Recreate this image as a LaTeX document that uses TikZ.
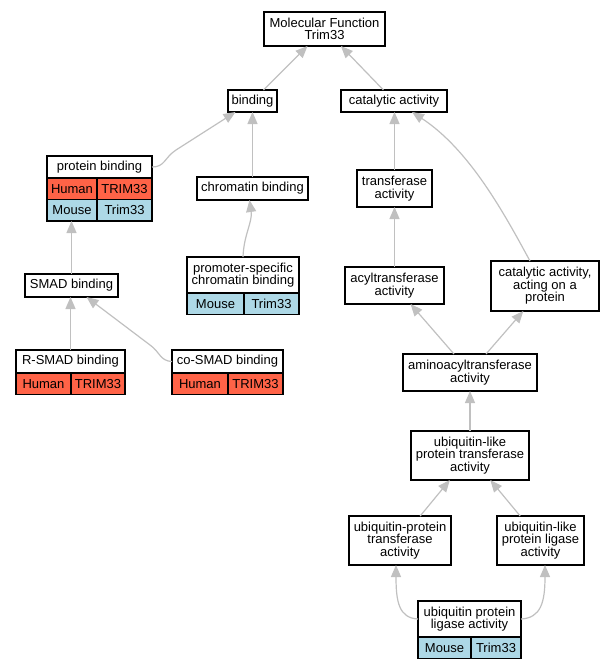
\documentclass[tikz,border=0pt]{standalone}
\usepackage{fontspec}
\setmainfont{Liberation Sans}
\usetikzlibrary{arrows.meta}
\definecolor{human}{HTML}{FF6347}
\definecolor{mouse}{HTML}{ADD8E6}
\definecolor{edgegray}{HTML}{C0C0C0}
\tikzset{
  term/.style={draw, line width=1.2pt, fill=white, inner sep=0pt, outer sep=0pt, align=center,
    font=\fontsize{13}{12.5}\selectfont},
  cell/.style={term, anchor=north west, minimum height=21.5pt},
  isa/.style={edgegray, line width=1.2pt, -{Triangle[length=12pt,width=10pt]}},
}
\begin{document}
\begin{tikzpicture}[x=1pt,y=-1pt]
    \useasboundingbox (0,0) rectangle (613,669);

    % Root
    \node[term, minimum width=121pt, minimum height=34pt] (mf) at (324.5,29) {Molecular Function\\Trim33};

    % binding side
    \node[term, minimum width=49pt, minimum height=22pt] (bind) at (252.5,101) {binding};
    \node[term, minimum width=105pt, minimum height=22pt] (pb) at (99.5,167) {protein binding};
    \node[cell, fill=human, minimum width=50pt] (pbh1) at (pb.south west) {Human};
    \node[cell, fill=human, minimum width=55pt] (pbh2) at (pbh1.north east) {TRIM33};
    \node[cell, fill=mouse, minimum width=50pt] (pbm1) at (pbh1.south west) {Mouse};
    \node[cell, fill=mouse, minimum width=55pt] (pbm2) at (pbm1.north east) {Trim33};
    \node[term, minimum width=111pt, minimum height=23pt] (chrom) at (252.5,188.5) {chromatin binding};
    \node[term, minimum width=112pt, minimum height=36pt] (psc) at (243,275) {promoter-specific\\chromatin binding};
    \node[cell, fill=mouse, minimum width=57pt] (pscm1) at (psc.south west) {Mouse};
    \node[cell, fill=mouse, minimum width=55pt] (pscm2) at (pscm1.north east) {Trim33};
    \node[term, minimum width=93pt, minimum height=23pt] (smad) at (71.5,285.5) {SMAD binding};
    \node[term, minimum width=109pt, minimum height=23pt] (rsmad) at (70.5,361.5) {R-SMAD binding};
    \node[cell, fill=human, minimum width=55pt] (rsmadh1) at (rsmad.south west) {Human};
    \node[cell, fill=human, minimum width=54pt] (rsmadh2) at (rsmadh1.north east) {TRIM33};
    \node[term, minimum width=111pt, minimum height=23pt] (cosmad) at (227.5,361.5) {co-SMAD binding};
    \node[cell, fill=human, minimum width=56pt] (cosmadh1) at (cosmad.south west) {Human};
    \node[cell, fill=human, minimum width=55pt] (cosmadh2) at (cosmadh1.north east) {TRIM33};

    % catalytic side
    \node[term, minimum width=106pt, minimum height=22pt] (cat) at (394,101) {catalytic activity};
    \node[term, minimum width=75pt, minimum height=37pt] (trans) at (394.5,188.5) {transferase\\activity};
    \node[term, minimum width=99pt, minimum height=37pt] (acyl) at (394.5,285.5) {acyltransferase\\activity};
    \node[term, minimum width=108pt, minimum height=50pt] (catprot) at (545,286) {catalytic activity,\\acting on a\\protein};
    \node[term, minimum width=134pt, minimum height=37pt] (amino) at (470,372.5) {aminoacyltransferase\\activity};
    \node[term, minimum width=118pt, minimum height=49pt] (ubtrans) at (470,455.5) {ubiquitin-like\\protein transferase\\activity};
    \node[term, minimum width=102pt, minimum height=49pt] (ubprot) at (400,540.5) {ubiquitin-protein\\transferase\\activity};
    \node[term, minimum width=87pt, minimum height=49pt] (ublig) at (540.5,540.5) {ubiquitin-like\\protein ligase\\activity};
    \node[term, minimum width=103pt, minimum height=36pt] (uplig) at (469.5,619) {ubiquitin protein\\ligase activity};
    \node[cell, fill=mouse, minimum width=53pt] (upligm1) at (uplig.south west) {Mouse};
    \node[cell, fill=mouse, minimum width=50pt] (upligm2) at (upligm1.north east) {Trim33};

    % is_a edges
    \draw[isa] (bind) -- (mf);
    \draw[isa] (cat) -- (mf);
    \draw[isa] (pb.east) .. controls (165,167) and (164,158) .. (176,150) -- ([xshift=-17pt]bind.south);
    \draw[isa] (chrom.north) -- (bind.south);
    \draw[isa] (psc.north) to[out=88,in=-82] ([xshift=-3pt]chrom.south);
    \draw[isa] (smad.north) -- (smad.north |- pbm1.south);
    \draw[isa] (rsmad.north) -- (rsmad.north |- smad.south);
    \draw[isa] (cosmad.west) .. controls (160,361) and (160,352) .. (150,345) -- ([xshift=15pt]smad.south);
    \draw[isa] (trans.north) -- (trans.north |- cat.south);
    \draw[isa] ([xshift=-15pt]catprot.north) .. controls (505,215) and (470,150) .. ([xshift=18pt]cat.south);
    \draw[isa] (acyl.north) -- (trans.south);
    \draw[isa] (amino) -- (acyl);
    \draw[isa] (amino) -- (catprot);
    \draw[isa] (ubtrans.north) -- (amino.south);
    \draw[isa] (ubprot) -- (ubtrans);
    \draw[isa] (ublig) -- (ubtrans);
    \draw[isa] (uplig.west) .. controls (399,618) and (396,602) .. ([xshift=-4pt]ubprot.south);
    \draw[isa] (uplig.east) .. controls (541,618) and (545,602) .. ([xshift=4.5pt]ublig.south);

\end{tikzpicture}
\end{document}
